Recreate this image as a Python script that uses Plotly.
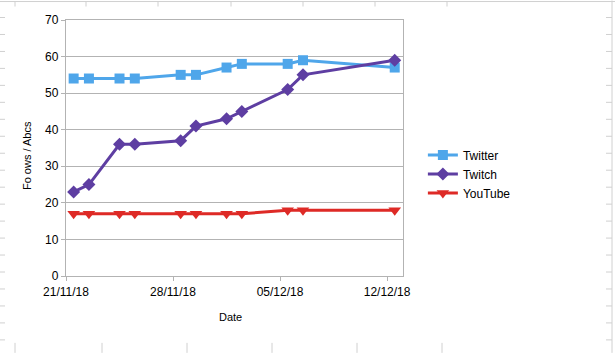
import plotly.graph_objects as go

dates = ["2018-11-21", "2018-11-22", "2018-11-24", "2018-11-25", "2018-11-28",
         "2018-11-29", "2018-12-01", "2018-12-02", "2018-12-05", "2018-12-06",
         "2018-12-12"]
twitter = [54, 54, 54, 54, 55, 55, 57, 58, 58, 59, 57]
twitch = [23, 25, 36, 36, 37, 41, 43, 45, 51, 55, 59]
youtube = [17, 17, 17, 17, 17, 17, 17, 17, 18, 18, 18]

tick_vals = ["2018-11-21", "2018-11-28", "2018-12-05", "2018-12-12"]
tick_text = ["21/11/18", "28/11/18", "05/12/18", "12/12/18"]

# LibreOffice date axis draws each point in the middle of its day
x = [d + " 12:00" for d in dates]

FONT = "Liberation Sans, Arial, sans-serif"

fig = go.Figure()
fig.add_trace(go.Scatter(x=x, y=twitter, name="Twitter", mode="lines+markers",
                         line=dict(color="#4fa6ea", width=3),
                         marker=dict(symbol="square", size=10, color="#4fa6ea")))
fig.add_trace(go.Scatter(x=x, y=twitch, name="Twitch", mode="lines+markers",
                         line=dict(color="#5e3ea2", width=3),
                         marker=dict(symbol="diamond", size=10, color="#5e3ea2")))
fig.add_trace(go.Scatter(x=x, y=youtube, name="YouTube", mode="lines+markers",
                         line=dict(color="#de2a26", width=3),
                         marker=dict(symbol="triangle-down", size=11, color="#de2a26")))

axis_line = "#b3b3b3"
fig.update_layout(
    width=615, height=353,
    margin=dict(l=66, r=212, t=19.5, b=77),
    paper_bgcolor="white", plot_bgcolor="white",
    font=dict(family=FONT, size=12, color="#000000"),
    showlegend=True,
    legend=dict(x=1.059, y=0.398, xanchor="left", yanchor="middle",
                font=dict(size=12), tracegroupgap=0, itemwidth=30),
    xaxis=dict(type="date", range=["2018-11-21", "2018-12-13 01:00"],
               tickvals=tick_vals, ticktext=tick_text,
               showgrid=False, showline=True, linecolor=axis_line, linewidth=1.3,
               mirror=True, ticks="outside", ticklen=4, tickcolor=axis_line,
               tickfont=dict(size=12), zeroline=False),
    yaxis=dict(range=[0, 70], tickvals=[0, 10, 20, 30, 40, 50, 60, 70],
               showgrid=True, gridcolor=axis_line, gridwidth=1,
               showline=True, linecolor=axis_line, linewidth=1.3, mirror=True,
               ticks="outside", ticklen=4, tickcolor=axis_line,
               tickfont=dict(size=12), zeroline=False),
    annotations=[
        dict(text="Date", xref="paper", yref="paper", x=0.489, y=-0.16,
             showarrow=False, font=dict(size=11), xanchor="center", yanchor="middle"),
        dict(text="Fo ows / Abcs", xref="paper", yref="paper", x=-0.116, y=0.472,
             showarrow=False, font=dict(size=11), textangle=-90,
             xanchor="center", yanchor="middle"),
    ],
)

# spreadsheet cell borders behind the chart
shapes = []
W, H = 615, 353
def px(xp):
    return (xp - 66) / (W - 66 - 212)
def py(yp):
    return (H - 77 - yp) / (H - 19.5 - 77)
grid_c = "#d0d0d0"
shapes.append(dict(type="line", xref="paper", yref="paper", x0=px(0), x1=px(W),
                   y0=py(1), y1=py(1), line=dict(color=grid_c, width=1), layer="below"))
shapes.append(dict(type="line", xref="paper", yref="paper", x0=px(612), x1=px(612),
                   y0=py(0), y1=py(H), line=dict(color=grid_c, width=1), layer="below"))
for tx in [15, 86, 158, 231, 303, 375, 447]:
    shapes.append(dict(type="line", xref="paper", yref="paper", x0=px(tx), x1=px(tx),
                       y0=py(1), y1=py(6), line=dict(color=grid_c, width=1), layer="below"))
for bx in [15, 102, 187, 272, 357, 442]:
    shapes.append(dict(type="line", xref="paper", yref="paper", x0=px(bx), x1=px(bx),
                       y0=py(343), y1=py(353), line=dict(color=grid_c, width=1), layer="below"))
for ty in range(17, 353, 17):
    shapes.append(dict(type="line", xref="paper", yref="paper", x0=px(0), x1=px(5),
                       y0=py(ty), y1=py(ty), line=dict(color=grid_c, width=1), layer="below"))
    shapes.append(dict(type="line", xref="paper", yref="paper", x0=px(606), x1=px(612),
                       y0=py(ty), y1=py(ty), line=dict(color=grid_c, width=1), layer="below"))
fig.update_layout(shapes=shapes)

fig.write_html("out.html")
